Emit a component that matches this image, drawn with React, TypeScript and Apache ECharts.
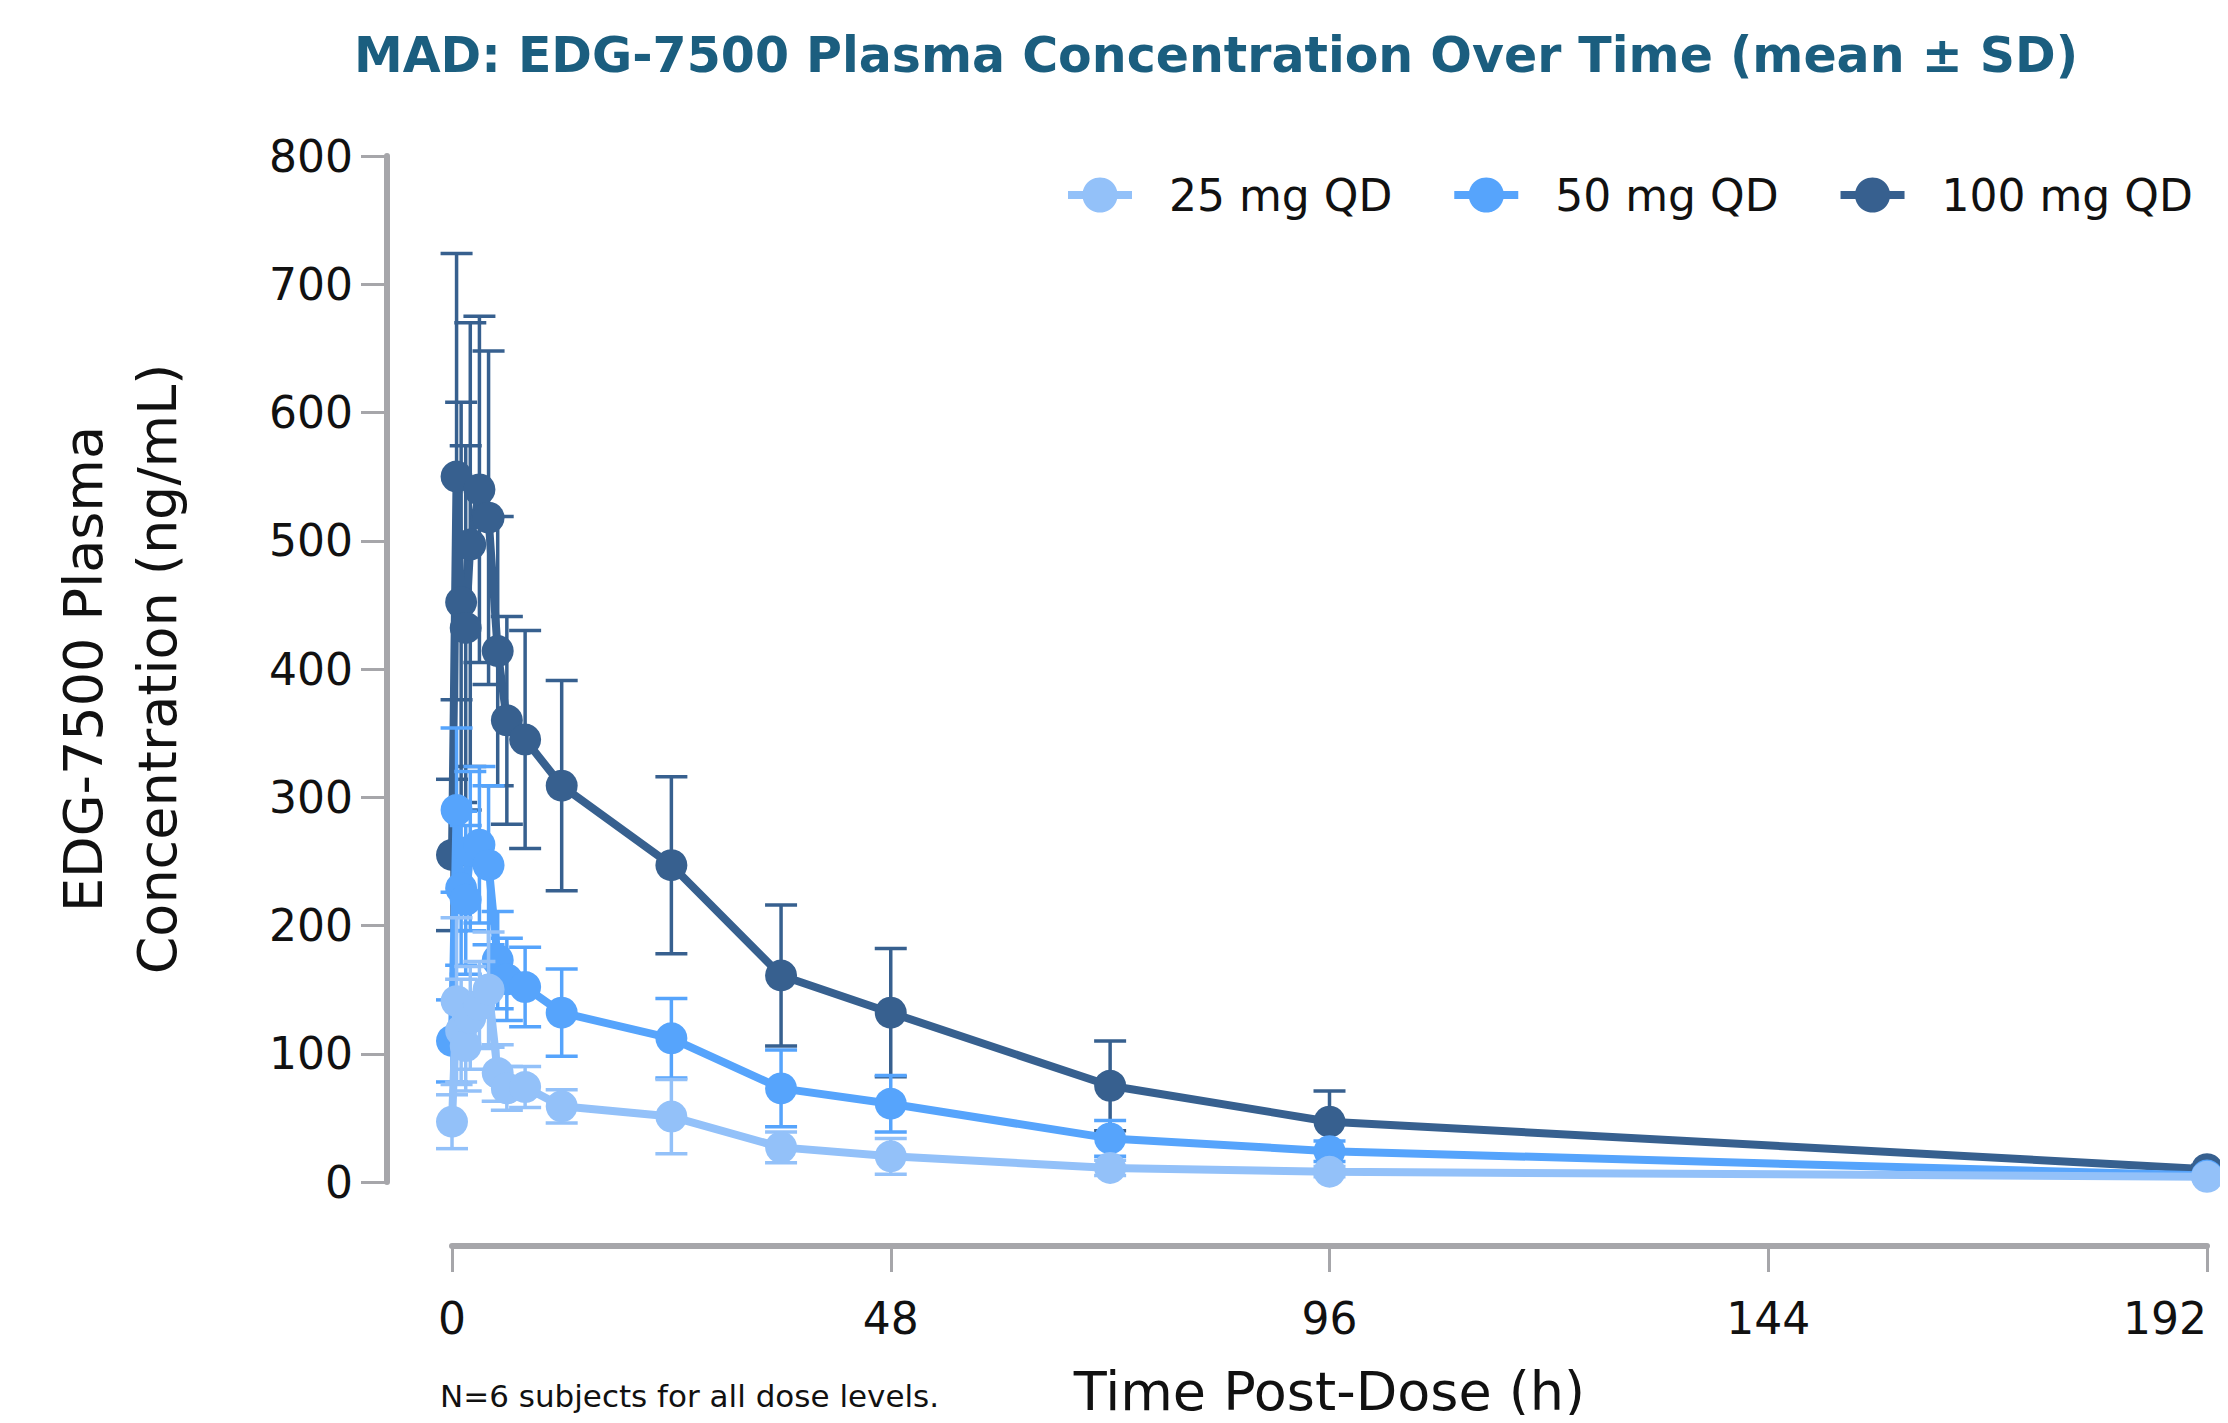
import React, { useEffect, useRef } from "react";
import * as echarts from "echarts";

const times = [0, 0.5, 1, 1.5, 2, 3, 4, 5, 6, 8, 12, 24, 36, 48, 72, 96, 192];
const seriesNames = ["25 mg QD", "50 mg QD", "100 mg QD"];
const mean25 = [47, 141, 118, 106, 128, 138, 150, 85, 73, 74, 59, 51, 27, 20, 11, 8, 4];
const sd25 = [21, 65, 40, 35, 40, 34, 45, 22, 17, 16, 13, 29, 12, 14, 6, 4, 1];
const mean50 = [110, 290, 229, 220, 258, 263, 247, 173, 158, 152, 132, 112, 73, 61, 34, 24, 5];
const sd50 = [32, 64, 60, 58, 62, 61, 62, 38, 32, 31, 34, 31, 30, 22, 14, 8, 2];
const mean100 = [255, 550, 452, 432, 497, 540, 518, 414, 360, 345, 309, 247, 161, 132, 75, 47, 10];
const sd100 = [59, 174, 156, 142, 173, 135, 130, 105, 81, 85, 82, 69, 55, 50, 35, 24, 3];
const xTicks = [0, 48, 96, 144, 192];
const yTicks = [0, 100, 200, 300, 400, 500, 600, 700, 800];

const colors = ["#93c1f9", "#56a4fc", "#37608f"];
const FONT = "'DejaVu Sans', 'Noto Sans', sans-serif";
const AXIS_GREY = "#a6a6aa";

export default function App() {
  const ref = useRef<HTMLDivElement>(null);
  useEffect(() => {
    if (!ref.current) return;
    const chart = echarts.init(ref.current, undefined, { renderer: "svg" });
    const means = [mean25, mean50, mean100];
    const sds = [sd25, sd50, sd100];
    const series: any[] = [];
    // draw order: 100 (bottom), 50, 25 (top)
    [2, 1, 0].forEach((i, k) => {
      const color = colors[i];
      series.push({
        name: seriesNames[i] + " SD",
        type: "custom",
        z: 2 + k * 2,
        encode: { x: 0, y: [1, 2] },
        data: times.map((t, j) => [t, means[i][j] - sds[i][j], means[i][j] + sds[i][j]]),
        renderItem: (params: any, api: any) => {
          const x = api.value(0);
          const lo = api.value(1);
          const hi = api.value(2);
          const top = api.coord([x, hi]);
          const bot = api.coord([x, lo]);
          const hw = 16;
          const style = { stroke: color, lineWidth: 3.5 };
          return {
            type: "group",
            children: [
              { type: "line", shape: { x1: top[0], y1: top[1], x2: bot[0], y2: bot[1] }, style },
              { type: "line", shape: { x1: top[0] - hw, y1: top[1], x2: top[0] + hw, y2: top[1] }, style },
              { type: "line", shape: { x1: bot[0] - hw, y1: bot[1], x2: bot[0] + hw, y2: bot[1] }, style },
            ],
          };
        },
      });
      series.push({
        name: seriesNames[i],
        type: "line",
        z: 3 + k * 2,
        data: times.map((t, j) => [t, means[i][j]]),
        symbol: "circle",
        symbolSize: 32,
        showSymbol: true,
        lineStyle: { color, width: 8 },
        itemStyle: { color },
      });
    });

    chart.setOption({
      animation: false,
      backgroundColor: "#ffffff",
      title: {
        text: "MAD: EDG-7500 Plasma Concentration Over Time (mean ± SD)",
        left: 1211,
        top: 26,
        textAlign: "center",
        textStyle: { color: "#1b5e7f", fontSize: 49, fontWeight: "bold", fontFamily: FONT },
      },
      legend: {
        data: seriesNames,
        left: 1059,
        top: 168,
        itemWidth: 64,
        itemHeight: 44,
        itemGap: 58,
        lineStyle: { width: 8 },
        textStyle: { fontSize: 44, color: "#111", fontFamily: FONT, padding: [0, 0, 0, 32] },
      },
      grid: { left: 452, right: 21, top: 156, bottom: 241, containLabel: false, outerBoundsMode: "none" },
      xAxis: {
        type: "value",
        min: 0,
        max: 192,
        interval: 48,
        offset: 64,
        name: "Time Post-Dose (h)",
        nameLocation: "middle",
        nameGap: 118,
        nameTextStyle: { fontSize: 54, color: "#111", fontFamily: FONT },
        axisLine: { show: true, onZero: false, lineStyle: { color: AXIS_GREY, width: 6 } },
        axisTick: { show: true, length: 26, lineStyle: { color: AXIS_GREY, width: 3 } },
        axisLabel: {
          margin: 50,
          fontSize: 44,
          color: "#111",
          fontFamily: FONT,
          customValues: xTicks,
          alignMaxLabel: "right",
        },
        splitLine: { show: false },
      },
      yAxis: {
        type: "value",
        min: 0,
        max: 800,
        interval: 100,
        offset: 65,
        name: "EDG-7500 Plasma\nConcentration (ng/mL)",
        nameLocation: "middle",
        nameGap: 193,
        nameRotate: 90,
        nameTextStyle: { fontSize: 54, color: "#111", fontFamily: FONT, lineHeight: 74 },
        axisLine: { show: true, onZero: false, lineStyle: { color: AXIS_GREY, width: 6 } },
        axisTick: { show: true, length: 26, lineStyle: { color: AXIS_GREY, width: 3 } },
        axisLabel: { margin: 34, fontSize: 44, color: "#111", fontFamily: FONT, customValues: yTicks },
        splitLine: { show: false },
      },
      graphic: [
        {
          type: "text",
          left: 440,
          top: 1380,
          style: {
            text: "N=6 subjects for all dose levels.",
            fontSize: 31,
            fill: "#111",
            fontFamily: FONT,
          },
        },
      ],
      series,
    });
    return () => chart.dispose();
  }, []);
  return <div ref={ref} style={{ width: 2228, height: 1423, margin: -8 }} />;
}
